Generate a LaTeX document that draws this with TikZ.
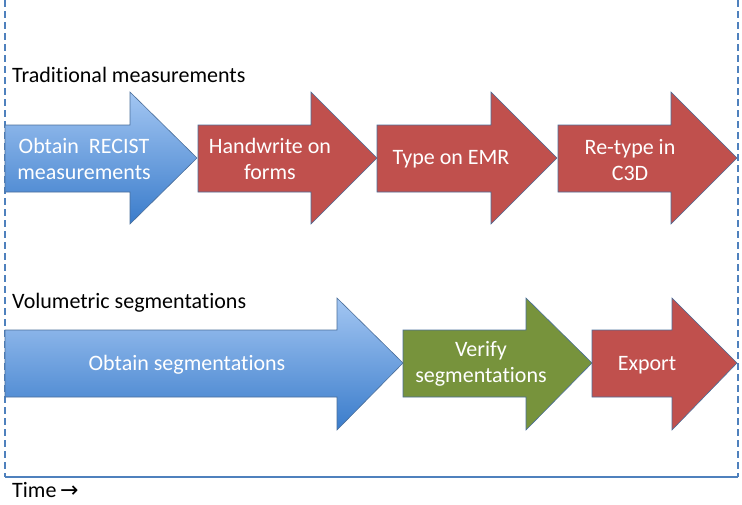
\documentclass[tikz,border=0pt]{standalone}
\usepackage{fontspec}
\setmainfont[Ligatures={NoCommon}]{Carlito}
\newfontfamily\symf{DejaVu Sans}
\begin{document}
\begin{tikzpicture}[x=1pt,y=-1pt,
  outl/.style={draw=arrowedge,line width=0.6pt,line join=miter},
  bluearr/.style={outl,top color=bluetop,bottom color=bluebot},
  redarr/.style={outl,fill=redfill},
  greenarr/.style={outl,fill=greenfill},
  lbl/.style={text=white,font=\fontsize{22}{26}\selectfont,align=center,inner sep=0pt},
  head/.style={text=black,font=\fontsize{22}{26}\selectfont,anchor=west,inner sep=0pt},
  frame/.style={draw=framec,line width=1.2pt}]
\definecolor{arrowedge}{HTML}{4A6E9A}
\definecolor{bluetop}{HTML}{A3C6F2}
\definecolor{bluebot}{HTML}{3A7CCB}
\definecolor{redfill}{HTML}{C0504D}
\definecolor{greenfill}{HTML}{77933C}
\definecolor{framec}{HTML}{4F81BD}
\useasboundingbox (0,0) rectangle (742,504);
% frame
\coordinate (tl) at (5,0);
\coordinate (bl) at (5,477);
\coordinate (br) at (738,477);
\coordinate (tr) at (738,0);
\draw[frame,dash pattern=on 7pt off 4pt] (tl) -- (bl);
\draw[frame,dash pattern=on 7pt off 4pt] (tr) -- (br);
\draw[frame] (bl) -- (br);
% top row arrows
\path[bluearr] (5,125) -- (130,125) -- (130,92) -- (197,158) -- (130,224) -- (130,192) -- (5,192) -- cycle;
\path[redarr] (198,125) -- (311,125) -- (311,92) -- (377,158) -- (311,224) -- (311,192) -- (198,192) -- cycle;
\path[redarr] (377,125) -- (491,125) -- (491,92) -- (557,158) -- (491,224) -- (491,192) -- (377,192) -- cycle;
\path[redarr] (558,125) -- (671,125) -- (671,92) -- (737,158) -- (671,224) -- (671,192) -- (558,192) -- cycle;
% bottom row arrows
\path[bluearr] (5,330) -- (337,330) -- (337,298) -- (403,363) -- (337,430) -- (337,397) -- (5,397) -- cycle;
\path[greenarr] (403,330) -- (526,330) -- (526,298) -- (592,363) -- (526,430) -- (526,397) -- (403,397) -- cycle;
\path[redarr] (592,330) -- (672,330) -- (672,298) -- (737,363) -- (672,430) -- (672,397) -- (592,397) -- cycle;
% headings
\node[head] (h1) at (12,75) {Traditional measurements};
\node[head] (h2) at (12,303) {Volumetric segmentations};
\node[head,anchor=base west] (time) at (12,497) {Time\,{\symf\fontsize{22}{24}\selectfont →}};
% labels
\node[lbl] (a1) at (84,159) {Obtain\ \ RECIST\\measurements};
\node[lbl] (a2) at (270,159) {Handwrite on\\forms};
\node[lbl] (a3) at (451,159) {Type on EMR};
\node[lbl] (a4) at (630,160) {Re-type in\\C3D};
\node[lbl] (b1) at (187,365) {Obtain segmentations};
\node[lbl] (b2) at (481,364) {Verify\\segmentations};
\node[lbl] (b3) at (647,365) {Export};
\end{tikzpicture}
\end{document}
